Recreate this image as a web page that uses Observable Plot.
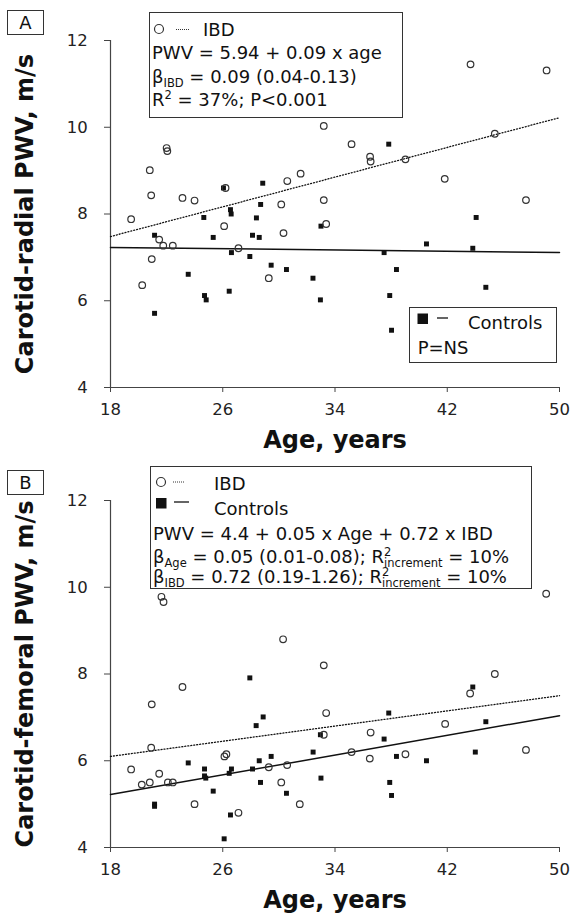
<!DOCTYPE html>
<html>
<head>
<meta charset="utf-8">
<script src="https://cdn.jsdelivr.net/npm/d3@7"></script>
<script src="https://cdn.jsdelivr.net/npm/@observablehq/plot@0.6"></script>
<style>
  html, body { margin: 0; padding: 0; background: #fff; overflow: hidden; }
  .panel { position: relative; width: 574px; height: 460px; }
  .panel > svg.plot { position: absolute; left: 0; top: 0; }
  .ov { position: absolute; left: 0; top: 0; pointer-events: none; }
  .lbl { position: absolute; font: 18px "DejaVu Sans"; line-height: 22px; white-space: nowrap; color: #111; }
  .box { position: absolute; border: 1px solid #333; box-sizing: border-box; background: transparent; }
  .sub { font-size: 11.5px; position: relative; top: 4px; }
  .sup { font-size: 11.5px; position: relative; top: -7px; }
  .tag { position: absolute; border: 1px solid #333; box-sizing: border-box; font: 18px "DejaVu Sans"; line-height: 23px; text-align: center; color: #111; }
</style>
</head>
<body>
<div class="panel" id="pA">
  <div class="tag" style="left:7px;top:10px;width:37px;height:25px;">A</div>
  <div class="box" style="left:149px;top:12px;width:254px;height:106px;"></div>
  <div class="lbl" style="left:203px;top:19.4px;">IBD</div>
  <div class="lbl" style="left:152px;top:42.4px;">PWV = 5.94 + 0.09 x age</div>
  <div class="lbl" style="left:152px;top:66.4px;">β<span class="sub">IBD</span> = 0.09 (0.04-0.13)</div>
  <div class="lbl" style="left:152px;top:89.4px;">R<span class="sup">2</span> = 37%; P&lt;0.001</div>
  <div class="box" style="left:409px;top:307px;width:148px;height:56px;"></div>
  <div class="lbl" style="left:468px;top:312.4px;">Controls</div>
  <div class="lbl" style="left:417.7px;top:337.4px;">P=NS</div>
  <svg class="ov" width="574" height="460">
    <circle cx="159" cy="29" r="4.5" fill="none" stroke="#333" stroke-width="1.2"/>
    <line x1="176" y1="29.5" x2="189" y2="29.5" stroke="#333" stroke-width="1" stroke-dasharray="1,1"/>
    <rect x="417.5" y="313.5" width="10.5" height="10.5" fill="#111"/>
    <line x1="437" y1="318" x2="448" y2="318" stroke="#111" stroke-width="1.3"/>
  </svg>
</div>
<div class="panel" id="pB">
  <div class="tag" style="left:7px;top:10px;width:37px;height:25px;">B</div>
  <div class="box" style="left:150px;top:6px;width:382px;height:123px;"></div>
  <div class="lbl" style="left:214px;top:12.7px;">IBD</div>
  <div class="lbl" style="left:214px;top:37.7px;">Controls</div>
  <div class="lbl" style="left:153px;top:62.7px;">PWV = 4.4 + 0.05 x Age + 0.72 x IBD</div>
  <div class="lbl" style="left:153px;top:86px;">β<span class="sub">Age</span> = 0.05 (0.01-0.08); R<span class="sup">2</span><span class="sub" style="margin-left:-7.3px">increment</span> = 10%</div>
  <div class="lbl" style="left:153px;top:106.4px;">β<span class="sub">IBD</span> = 0.72 (0.19-1.26); R<span class="sup">2</span><span class="sub" style="margin-left:-7.3px">increment</span> = 10%</div>
  <svg class="ov" width="574" height="460">
    <circle cx="161" cy="22" r="4.5" fill="none" stroke="#333" stroke-width="1.2"/>
    <line x1="173" y1="22" x2="185" y2="22" stroke="#333" stroke-width="1" stroke-dasharray="1,1"/>
    <rect x="156" y="38" width="10.5" height="10.5" fill="#111"/>
    <line x1="174" y1="42" x2="189" y2="42" stroke="#111" stroke-width="1.3"/>
  </svg>
</div>
<script>
// ---------- Data ----------
const xTicks = [18, 26, 34, 42, 50];
const yTicks = [4, 6, 8, 10, 12];
const xLabel = "Age, years";
const yLabelA = "Carotid-radial PWV, m/s";
const yLabelB = "Carotid-femoral PWV, m/s";

// Panel A: carotid-radial PWV
const ibdA_age = [22.0, 22.05, 20.8, 20.9, 23.13, 23.99, 19.47, 26.2, 26.1, 30.17, 30.6, 31.55, 21.47, 21.76, 22.44, 20.94, 20.26, 27.12, 30.33, 29.28, 43.66, 49.08, 33.2, 35.18, 36.5, 36.54, 39.02, 45.39, 41.82, 47.61, 33.2, 33.37];
const ibdA_pwv = [9.52, 9.45, 9.01, 8.43, 8.37, 8.31, 7.88, 8.6, 7.72, 8.22, 8.76, 8.93, 7.41, 7.27, 7.27, 6.96, 6.36, 7.21, 7.56, 6.52, 11.45, 11.31, 10.03, 9.61, 9.32, 9.21, 9.26, 9.85, 8.81, 8.32, 8.32, 7.77];
const ctlA_age = [21.14, 21.14, 23.54, 24.65, 25.32, 24.7, 24.82, 26.05, 26.55, 26.6, 26.62, 26.46, 28.85, 28.7, 28.4, 28.12, 28.6, 27.93, 29.45, 30.54, 32.43, 32.96, 33.0, 37.83, 37.5, 38.38, 37.9, 38.03, 40.52, 43.82, 44.06, 44.75];
const ctlA_pwv = [7.51, 5.71, 6.61, 7.92, 7.46, 6.12, 6.02, 8.6, 8.1, 8.0, 7.11, 6.22, 8.71, 8.22, 7.91, 7.51, 7.46, 7.02, 6.82, 6.72, 6.52, 6.02, 7.72, 9.61, 7.11, 6.72, 6.12, 5.32, 7.31, 7.21, 7.92, 6.31];
const fitA_age = [18, 50];
const fitA_ibd = [7.48, 10.22];
const fitA_ctl = [7.23, 7.11];

// Panel B: carotid-femoral PWV
const ibdB_age = [21.63, 21.78, 30.3, 23.13, 20.94, 20.9, 26.12, 26.26, 19.47, 29.28, 30.59, 20.23, 20.8, 21.47, 22.09, 22.44, 30.17, 31.49, 23.99, 27.12, 49.05, 33.2, 45.39, 43.63, 33.37, 41.85, 33.2, 36.54, 35.18, 47.61, 39.02, 36.48];
const ibdB_pwv = [9.78, 9.66, 8.8, 7.7, 7.3, 6.3, 6.1, 6.15, 5.8, 5.85, 5.9, 5.45, 5.5, 5.7, 5.5, 5.5, 5.5, 5.0, 5.0, 4.8, 9.85, 8.2, 8.0, 7.55, 7.1, 6.85, 6.6, 6.65, 6.2, 6.25, 6.15, 6.05];
const ctlB_age = [27.93, 28.88, 28.38, 28.6, 29.45, 23.54, 24.7, 24.7, 24.79, 26.62, 26.46, 28.12, 28.69, 25.32, 30.54, 21.14, 21.14, 26.55, 26.1, 43.82, 37.83, 44.75, 32.96, 37.5, 32.44, 44.0, 38.38, 40.52, 33.0, 37.9, 38.03];
const ctlB_pwv = [7.91, 7.01, 6.81, 6.0, 6.1, 5.95, 5.81, 5.65, 5.6, 5.81, 5.71, 5.81, 5.5, 5.3, 5.25, 5.0, 4.95, 4.75, 4.2, 7.7, 7.1, 6.9, 6.6, 6.5, 6.2, 6.2, 6.1, 6.0, 5.6, 5.5, 5.2];
const fitB_age = [18, 50];
const fitB_ibd = [6.1, 7.5];
const fitB_ctl = [5.22, 7.04];

// ---------- Build ----------
const rows = (ages, vals) => ages.map((a, i) => ({age: a, pwv: vals[i]}));

function panel(ibd, ctl, fitIbd, fitCtl, yLabel) {
  return Plot.plot({
    width: 574, height: 460,
    marginLeft: 110, marginRight: 15, marginTop: 40, marginBottom: 73,
    x: {domain: [18, 50]},
    y: {domain: [4, 12]},
    style: {fontFamily: "DejaVu Sans", fontSize: "16.5px", color: "#222", background: "transparent"},
    marks: [
      Plot.ruleX([18], {stroke: "#444", strokeWidth: 1.2}),
      Plot.ruleY([4], {stroke: "#444", strokeWidth: 1.2}),
      Plot.axisX({ticks: xTicks, tickSize: 5, tickPadding: 10.5, tickFormat: d => String(d), label: null, stroke: "#444"}),
      Plot.axisY({ticks: yTicks, tickSize: 6, tickPadding: 16.7, tickFormat: d => String(d), label: null, stroke: "#444"}),
      Plot.line(fitIbd, {x: "age", y: "pwv", stroke: "#111", strokeWidth: 1.3, strokeDasharray: "1,2"}),
      Plot.line(fitCtl, {x: "age", y: "pwv", stroke: "#111", strokeWidth: 1.5}),
      Plot.dot(ctl, {x: "age", y: "pwv", symbol: "square", r: 2.8, fill: "#111", stroke: "none"}),
      Plot.dot(ibd, {x: "age", y: "pwv", r: 3.3, stroke: "#333", strokeWidth: 1.2, fill: "none"}),
      Plot.text([yLabel], {text: d => d, frameAnchor: "left", textAnchor: "middle", rotate: -90, dx: -84.7, lineAnchor: "middle",
        fontWeight: "bold", fontSize: 24, fontFamily: "DejaVu Sans", fill: "#111"}),
      Plot.text([xLabel], {text: d => d, frameAnchor: "bottom", textAnchor: "middle", dy: 53.3, lineAnchor: "middle",
        fontWeight: "bold", fontSize: 24, fontFamily: "DejaVu Sans", fill: "#111"})
    ]
  });
}

const svgA = panel(rows(ibdA_age, ibdA_pwv), rows(ctlA_age, ctlA_pwv), rows(fitA_age, fitA_ibd), rows(fitA_age, fitA_ctl), yLabelA);
const svgB = panel(rows(ibdB_age, ibdB_pwv), rows(ctlB_age, ctlB_pwv), rows(fitB_age, fitB_ibd), rows(fitB_age, fitB_ctl), yLabelB);
svgA.classList.add("plot");
svgB.classList.add("plot");
const pA = document.getElementById("pA");
const pB = document.getElementById("pB");
pA.insertBefore(svgA, pA.firstChild);
pB.insertBefore(svgB, pB.firstChild);
</script>
</body>
</html>
